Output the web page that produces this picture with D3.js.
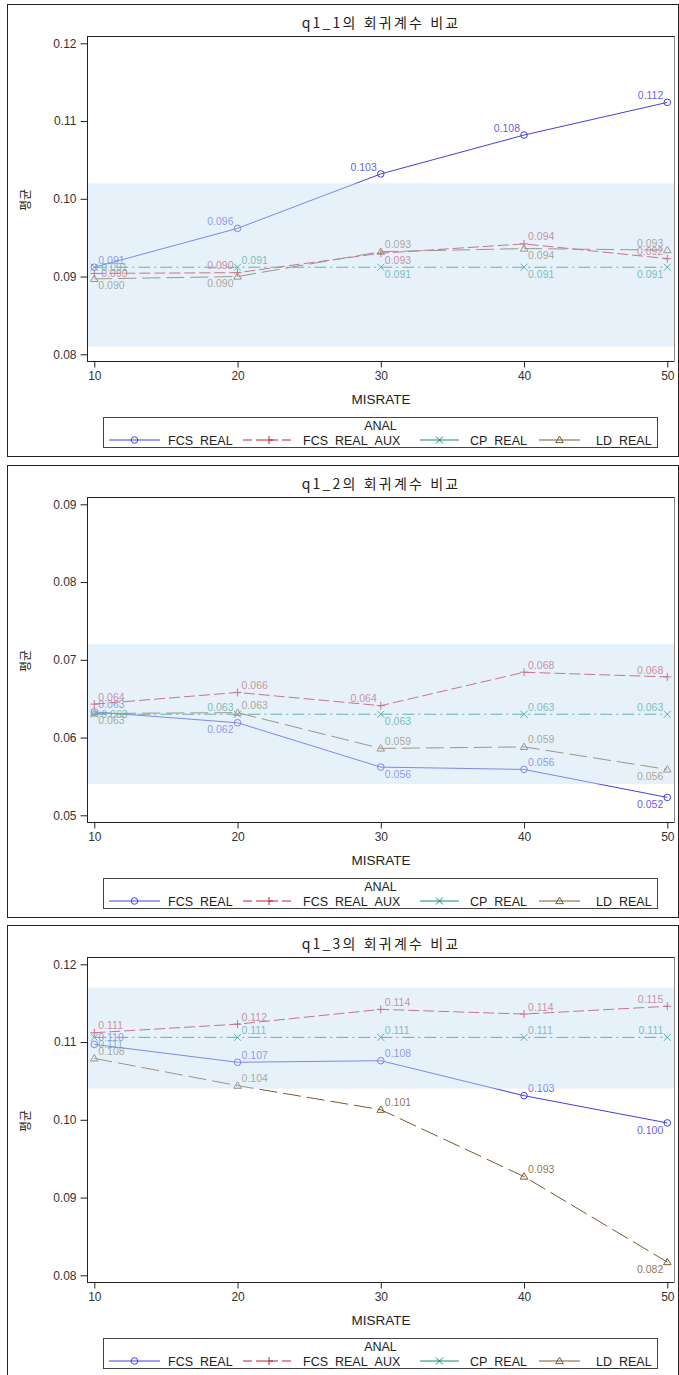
<!DOCTYPE html>
<html lang="ko">
<head>
<meta charset="UTF-8">
<title>회귀계수 비교</title>
<script src="https://d3js.org/d3.v7.min.js"></script>
<style>
  body { margin: 0; background: #fff; }
  svg text { font-family: "Liberation Sans", Arial, sans-serif; }
  .kr { font-family: "Noto Sans CJK KR", "Liberation Sans", sans-serif !important; }
</style>
</head>
<body>
<svg id="chart" width="679" height="1375"></svg>
<script>
// ---- data ----
const misrate = [10, 20, 30, 40, 50];
const seriesNames = ["FCS_REAL", "FCS_REAL_AUX", "CP_REAL", "LD_REAL"];
const titles = ["q1_1의 회귀계수 비교", "q1_2의 회귀계수 비교", "q1_3의 회귀계수 비교"];

const yTicks1 = [0.08, 0.09, 0.10, 0.11, 0.12];
const yTicks2 = [0.05, 0.06, 0.07, 0.08, 0.09];
const yTicks3 = [0.08, 0.09, 0.10, 0.11, 0.12];

// reference band (low, high)
const band1 = [0.081, 0.102];
const band2 = [0.054, 0.072];
const band3 = [0.104, 0.117];

// q1_1
const q11Fcs = [0.0912, 0.0962, 0.1032, 0.1082, 0.1124];
const q11Aux = [0.0904, 0.0905, 0.0930, 0.0942, 0.0923];
const q11Cp  = [0.0912, 0.0912, 0.0912, 0.0912, 0.0912];
const q11Ld  = [0.0897, 0.0900, 0.0932, 0.0936, 0.0934];

// q1_2
const q12Fcs = [0.0633, 0.0619, 0.0562, 0.0559, 0.0523];
const q12Aux = [0.0643, 0.0658, 0.0641, 0.0684, 0.0678];
const q12Cp  = [0.0630, 0.0630, 0.0630, 0.0630, 0.0630];
const q12Ld  = [0.0631, 0.0632, 0.0586, 0.0588, 0.0559];

// q1_3
const q13Fcs = [0.1097, 0.1074, 0.1076, 0.1031, 0.0996];
const q13Aux = [0.1112, 0.1123, 0.1142, 0.1136, 0.1146];
const q13Cp  = [0.1106, 0.1106, 0.1106, 0.1106, 0.1106];
const q13Ld  = [0.1079, 0.1044, 0.1013, 0.0927, 0.0817];

// where each point label sits (t/b = above/below, l/r = side)
const q11Pos = [["tr","tl","tl","tl","tl"], ["r","tl","br","tr","tl"], ["r","tr","br","br","bl"], ["br","bl","tr","br","tl"]];
const q12Pos = [["tr","bl","br","tr","bl"], ["tr","tr","tl","tr","tl"], ["r","tl","br","tr","tl"], ["br","tr","tr","tr","bl"]];
const q13Pos = [["tr","tr","tr","tr","bl"], ["tr","tr","tr","tr","tl"], ["br","tr","tr","tr","tl"], ["tr","tr","tr","tr","bl"]];

const panels = [
  { title: titles[0], ticks: yTicks1, band: band1, series: [q11Fcs, q11Aux, q11Cp, q11Ld], pos: q11Pos },
  { title: titles[1], ticks: yTicks2, band: band2, series: [q12Fcs, q12Aux, q12Cp, q12Ld], pos: q12Pos },
  { title: titles[2], ticks: yTicks3, band: band3, series: [q13Fcs, q13Aux, q13Cp, q13Ld], pos: q13Pos }
];

// ---- styles ----
const colors = ["#4040e0", "#c41e3a", "#138a72", "#7a5a2d"];
const dashes = [null, "11,4", "12,4,2,4", "18,6"];
const markers = ["circle", "plus", "times", "triangle"];

const panelTops = [4, 465, 925];
const plotLeft = 87, plotRight = 674.5;
const svg = d3.select("#chart");

const x = d3.scaleLinear().domain([10, 50]).range([94.3, 667.3]);
const fmt = d3.format(".3f");

function markerPath(type, px, py) {
  const p = d3.path();
  if (type === "plus") {
    p.moveTo(px - 4, py); p.lineTo(px + 4, py);
    p.moveTo(px, py - 4); p.lineTo(px, py + 4);
  } else if (type === "times") {
    p.moveTo(px - 3.5, py - 3.5); p.lineTo(px + 3.5, py + 3.5);
    p.moveTo(px - 3.5, py + 3.5); p.lineTo(px + 3.5, py - 3.5);
  } else if (type === "triangle") {
    p.moveTo(px, py - 3.8); p.lineTo(px + 3.8, py + 2.6); p.lineTo(px - 3.8, py + 2.6); p.closePath();
  }
  return p.toString();
}

function drawMarker(g, type, px, py, color) {
  if (type === "circle") {
    g.append("circle").attr("cx", px).attr("cy", py).attr("r", 3.3)
      .attr("fill", "none").attr("stroke", color).attr("stroke-width", 1);
  } else {
    g.append("path").attr("d", markerPath(type, px, py))
      .attr("fill", "none").attr("stroke", color).attr("stroke-width", 1);
  }
}

const labelOffset = {
  tr: { dx: 4, dy: -7, anchor: "start" },
  tl: { dx: -4, dy: -7, anchor: "end" },
  br: { dx: 4, dy: 7, anchor: "start" },
  bl: { dx: -4, dy: 7, anchor: "end" },
  r:  { dx: 7, dy: 0, anchor: "start" }
};

panels.forEach((panel, pi) => {
  const T = panelTops[pi];
  const g = svg.append("g");
  const plotTop = T + 32, plotBottom = T + 357;

  const y = d3.scaleLinear()
    .domain([panel.ticks[0], panel.ticks[panel.ticks.length - 1]])
    .range([T + 350.3, T + 39.3]);

  // panel frame
  g.append("rect").attr("x", 7.5).attr("y", T + 0.5).attr("width", 671).attr("height", 452)
    .attr("fill", "none").attr("stroke", "#222");

  // title
  g.append("text").attr("class", "kr")
    .attr("x", 381).attr("y", T + 24)
    .attr("text-anchor", "middle")
    .attr("font-size", 14).attr("letter-spacing", 2.2).attr("fill", "#222")
    .text(panel.title);

  // series
  const lineGen = d3.line().x((d, i) => x(misrate[i])).y(d => y(d));
  panel.series.forEach((vals, si) => {
    const sg = g.append("g");
    sg.append("path").datum(vals)
      .attr("d", lineGen)
      .attr("fill", "none")
      .attr("stroke", colors[si])
      .attr("stroke-width", 1)
      .attr("stroke-dasharray", dashes[si]);
    vals.forEach((v, i) => {
      const px = x(misrate[i]), py = y(v);
      drawMarker(sg, markers[si], px, py, colors[si]);
      const o = labelOffset[panel.pos[si][i]];
      sg.append("text")
        .attr("x", px + o.dx).attr("y", py + o.dy + 3.6)
        .attr("text-anchor", o.anchor)
        .attr("font-size", 10.5)
        .attr("fill", colors[si])
        .attr("fill-opacity", 0.85)
        .text(fmt(v));
    });
  });

  // translucent reference band drawn over the lines
  g.append("rect")
    .attr("x", plotLeft).attr("width", plotRight - plotLeft)
    .attr("y", y(panel.band[1])).attr("height", y(panel.band[0]) - y(panel.band[1]))
    .attr("fill", "rgb(200,225,245)").attr("fill-opacity", 0.45);

  // plot frame
  g.append("line").attr("x1", plotRight).attr("x2", plotRight).attr("y1", plotTop).attr("y2", plotBottom)
    .attr("stroke", "#888");
  g.append("line").attr("x1", plotLeft).attr("x2", plotRight).attr("y1", plotTop + 0.5).attr("y2", plotTop + 0.5)
    .attr("stroke", "#222");

  // axes
  const yAxis = d3.axisLeft(y).tickValues(panel.ticks).tickFormat(d3.format(".2f"))
    .tickSize(7).tickPadding(4).tickSizeOuter(0);
  const ya = g.append("g").attr("transform", `translate(${plotLeft + 0.5},0)`).call(yAxis);
  ya.select(".domain").attr("d", `M0,${plotTop}V${plotBottom}`).attr("stroke", "#222");
  ya.selectAll(".tick line").attr("stroke", "#222");
  ya.selectAll(".tick text").attr("font-size", 12).attr("fill", "#333")
    .attr("font-family", "Liberation Sans, Arial, sans-serif");

  const xAxis = d3.axisBottom(x).tickValues(misrate).tickFormat(d3.format("d"))
    .tickSize(6).tickPadding(4).tickSizeOuter(0);
  const xa = g.append("g").attr("transform", `translate(0,${plotBottom + 0.5})`).call(xAxis);
  xa.select(".domain").attr("d", `M${plotLeft},0H${plotRight}`).attr("stroke", "#222");
  xa.selectAll(".tick line").attr("stroke", "#222");
  xa.selectAll(".tick text").attr("font-size", 12).attr("fill", "#333")
    .attr("font-family", "Liberation Sans, Arial, sans-serif");

  // axis titles
  g.append("text")
    .attr("x", 381).attr("y", T + 400)
    .attr("text-anchor", "middle").attr("font-size", 13.5).attr("fill", "#222")
    .text("MISRATE");
  g.append("text").attr("class", "kr")
    .attr("transform", `translate(30,${T + 196}) rotate(-90)`)
    .attr("text-anchor", "middle").attr("font-size", 12).attr("fill", "#222")
    .text("평균");

  // legend
  const lg = g.append("g");
  lg.append("rect").attr("x", 103.5).attr("y", T + 413.5).attr("width", 554).attr("height", 30)
    .attr("fill", "#fff").attr("stroke", "#444");
  lg.append("text").attr("x", 380.5).attr("y", T + 426)
    .attr("text-anchor", "middle").attr("font-size", 12.5).attr("fill", "#222")
    .text("ANAL");
  const legendItems = [
    { x: 109, len: 51, tx: 168 },
    { x: 243, len: 52, tx: 303 },
    { x: 420, len: 39, tx: 470 },
    { x: 539, len: 41, tx: 596 }
  ];
  const ly = T + 436;
  legendItems.forEach((it, si) => {
    lg.append("line").attr("x1", it.x).attr("x2", it.x + it.len).attr("y1", ly).attr("y2", ly)
      .attr("stroke", colors[si]).attr("stroke-width", 1)
      .attr("stroke-dasharray", si === 1 ? "9,4" : null);
    drawMarker(lg, markers[si], it.x + it.len / 2, ly, colors[si]);
    lg.append("text").attr("x", it.tx).attr("y", ly + 4.5)
      .attr("font-size", 12.5).attr("fill", "#222")
      .text(seriesNames[si]);
  });
});
</script>
</body>
</html>
